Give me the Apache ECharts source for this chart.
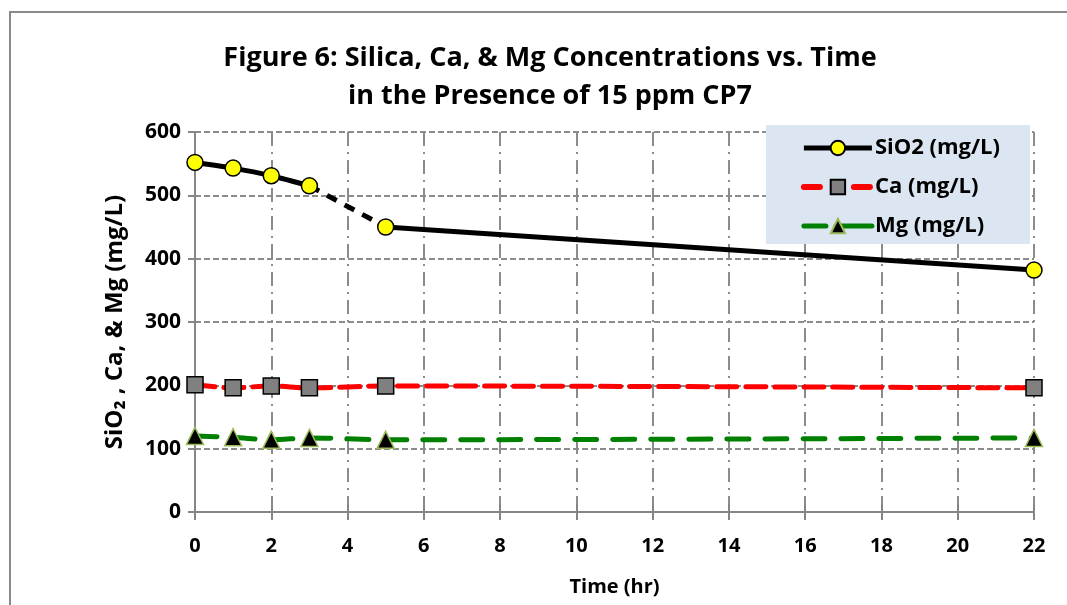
<!DOCTYPE html>
<html><head><meta charset="utf-8">
<script src="https://cdn.jsdelivr.net/npm/echarts@6/dist/echarts.min.js"></script>
<style>html,body{margin:0;padding:0;background:#fff}#c{width:1067px;height:605px}</style>
</head><body><div id="c"></div>
<script>
var timeHr = [0, 1, 2, 3, 5, 22];
var sio2 = [552, 543, 531, 515, 450, 382];
var ca = [201, 196, 199, 196, 199, 196];
var mg = [120, 118, 114, 117, 114, 117];
var xTicks = [0, 2, 4, 6, 8, 10, 12, 14, 16, 18, 20, 22];
var yTicks = [0, 100, 200, 300, 400, 500, 600];

function pairs(xs, ys, from, to) {
  var out = [];
  for (var i = from; i <= to; i++) out.push([xs[i], ys[i]]);
  return out;
}
var FONT = '"Open Sans", Lato, sans-serif';
var chart = echarts.init(document.getElementById('c'));
var sioName = 'SiO2 (mg/L)';
var sioSymbol = {symbol: 'circle', symbolSize: 16, itemStyle: {color: '#ffff00', borderColor: '#000', borderWidth: 1.5}};
var caLine = {color: '#ff0000', width: 5, type: [20, 9], cap: 'round'};
var mgLine = {color: '#008000', width: 5, type: [22, 16], cap: 'round'};
chart.setOption({
  animation: false,
  backgroundColor: '#fff',
  graphic: [{type: 'rect', shape: {x: 10, y: 12, width: 1100, height: 700}, style: {fill: 'none', stroke: '#8a8a8a', lineWidth: 2}, z: -1}],
  title: {
    text: 'Figure 6: Silica, Ca, & Mg Concentrations vs. Time\nin the Presence of 15 ppm CP7',
    left: 545, top: 34, textAlign: 'center',
    textStyle: {fontFamily: FONT, fontWeight: 'bold', fontSize: 27, lineHeight: 38, color: '#000'}
  },
  legend: {
    right: 37, top: 125, orient: 'vertical', itemGap: 17,
    padding: [12, 30, 7, 35],
    backgroundColor: '#dce6f2',
    itemWidth: 68, itemHeight: 18,
    textStyle: {fontFamily: FONT, fontWeight: 'bold', fontSize: 22, color: '#000', padding: [0, 0, 0, -2]},
    data: [
      {name: sioName, lineStyle: {color: '#000', width: 5}},
      {name: 'Ca (mg/L)', lineStyle: {color: '#ff0000', width: 6, type: [16, 34], cap: 'round'}},
      {name: 'Mg (mg/L)', lineStyle: {color: '#008000', width: 5, type: [22, 10, 40, 0], cap: 'round'}}
    ]
  },
  grid: {left: 195, right: 33, top: 132, bottom: 93},
  xAxis: [{
    type: 'value', min: 0, max: 22, interval: 2,
    name: 'Time (hr)', nameLocation: 'middle', nameGap: 65,
    nameTextStyle: {fontFamily: FONT, fontWeight: 'bold', fontSize: 20, color: '#000'},
    axisLabel: {fontFamily: FONT, fontWeight: 'bold', fontSize: 20, color: '#000', margin: 24,
      formatter: function (v) { return xTicks.indexOf(v) >= 0 ? String(v) : ''; }},
    axisLine: {onZero: false, lineStyle: {color: '#868686', width: 2}},
    axisTick: {show: true, length: 8, lineStyle: {color: '#868686', width: 2}},
    splitLine: {show: true, lineStyle: {color: '#8c8c8c', width: 2, type: [14, 6, 2, 6]}}
  }, {
    type: 'value', min: 0, max: 22, interval: 2, position: 'bottom',
    axisLine: {show: false}, axisLabel: {show: false}, splitLine: {show: false},
    axisTick: {show: true, inside: true, length: 8, lineStyle: {color: '#868686', width: 2}}
  }],
  yAxis: {
    type: 'value', min: 0, max: 600, interval: 100,
    name: 'SiO\u2082 , Ca, & Mg (mg/L)', nameLocation: 'middle', nameGap: 68, nameRotate: 90,
    nameTextStyle: {fontFamily: FONT, fontWeight: 'bold', fontSize: 24, color: '#000'},
    axisLabel: {fontFamily: FONT, fontWeight: 'bold', fontSize: 21, color: '#000', margin: 14,
      formatter: function (v) { return yTicks.indexOf(v) >= 0 ? String(v) : ''; }},
    axisLine: {show: true, lineStyle: {color: '#868686', width: 2}},
    axisTick: {show: true, length: 7, lineStyle: {color: '#868686', width: 2}},
    splitLine: {show: true, lineStyle: {color: '#8c8c8c', width: 2, type: [6, 3]}}
  },
  series: [
    Object.assign({name: sioName, type: 'line', smooth: 0.3, data: pairs(timeHr, sio2, 0, 3),
      lineStyle: {color: '#000', width: 5}, z: 5}, sioSymbol),
    {name: sioName, type: 'line', smooth: false, data: pairs(timeHr, sio2, 3, 4), showSymbol: false,
      symbol: 'none', lineStyle: {color: '#000', width: 5, type: [11, 9]}, z: 4},
    Object.assign({name: sioName, type: 'line', smooth: 0.3, data: pairs(timeHr, sio2, 4, 5),
      lineStyle: {color: '#000', width: 5}, z: 5}, sioSymbol),
    {name: 'Ca (mg/L)', type: 'line', smooth: 0.3, data: pairs(timeHr, ca, 0, 5),
      symbol: 'rect', symbolSize: 16, itemStyle: {color: '#808080', borderColor: '#000', borderWidth: 1.5},
      lineStyle: caLine, z: 4},
    {name: 'Mg (mg/L)', type: 'line', smooth: 0.3, data: pairs(timeHr, mg, 0, 5),
      symbol: 'triangle', symbolSize: 17, itemStyle: {color: '#000', borderColor: '#9bbb59', borderWidth: 1.5},
      lineStyle: mgLine, z: 4}
  ]
});
</script></body></html>
